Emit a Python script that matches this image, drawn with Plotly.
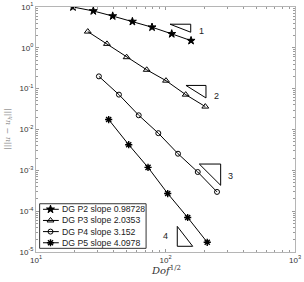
import numpy as np
import plotly.graph_objects as go

# Data (Dof^(1/2), error)
p2_x = [19.3, 27.7, 39.1, 55.5, 78.7, 111.7, 157.5]
p2_y = [10.0, 8.0, 6.0, 4.4, 3.2, 2.2, 1.5]
p3_x = [25.1, 35.3, 50.1, 71.6, 100.9, 143.2, 202.9]
p3_y = [2.5, 1.25, 0.59, 0.29, 0.157, 0.0714, 0.0364]
p4_x = [30.6, 43.7, 62.1, 88.0, 124.9, 177.4, 250.0]
p4_y = [0.2, 0.0714, 0.0223, 0.00813, 0.00255, 0.00091, 0.000296]
p5_x = [36.4, 52.0, 73.3, 104.0, 148.3, 210.0]
p5_y = [0.01754, 0.00424, 0.00118, 0.00027, 7.0e-5, 1.73e-5]

names = ["DG P2 slope 0.98728", "DG P3 slope 2.0353", "DG P4 slope 3.152", "DG P5 slope 4.0978"]

# slope triangles
tri1_x = [108.4, 156.6, 156.6, 108.4]
tri1_y = [3.79, 3.79, 2.41, 3.79]
tri2_x = [143.9, 205.4, 205.4, 143.9]
tri2_y = [0.120, 0.120, 0.0593, 0.120]
tri3_x = [182.4, 266.7, 266.7, 182.4]
tri3_y = [0.001426, 0.001426, 0.000430, 0.001426]
tri4_x = [123.3, 123.3, 162.2, 123.3]
tri4_y = [4.24e-5, 1.38e-5, 1.38e-5, 4.24e-5]
tri_labels = ["1", "2", "3", "4"]
lab_x = [190.3, 246.6, 316.0, 99.2]
lab_y = [2.6, 0.0675, 7.26e-4, 2.42e-5]

x_tick_vals = [10, 100, 1000]
x_tick_text = ["10<sup>1</sup>", "10<sup>2</sup>", "10<sup>3</sup>"]
y_tick_vals = [1e-5, 1e-4, 1e-3, 1e-2, 1e-1, 1, 10]
y_tick_text = ["10<sup>-5</sup>", "10<sup>-4</sup>", "10<sup>-3</sup>", "10<sup>-2</sup>",
               "10<sup>-1</sup>", "10<sup>0</sup>", "10<sup>1</sup>"]

fig = go.Figure()
styles = [("star", 6, 1), ("triangle-up-open", 6, 1),
          ("circle-open", 5, 1), ("asterisk-open", 6, 1.4)]
data = [(p2_x, p2_y), (p3_x, p3_y), (p4_x, p4_y), (p5_x, p5_y)]
for (x, y), (sym, sz, lw), nm in zip(data, styles, names):
    fig.add_trace(go.Scatter(x=x, y=y, mode="lines+markers", name=nm, showlegend=False,
                             line=dict(color="black", width=1),
                             marker=dict(symbol=sym, size=sz, color="black",
                                         line=dict(color="black", width=lw))))

for tx, ty in [(tri1_x, tri1_y), (tri2_x, tri2_y), (tri3_x, tri3_y), (tri4_x, tri4_y)]:
    fig.add_trace(go.Scatter(x=tx, y=ty, mode="lines", showlegend=False,
                             line=dict(color="black", width=1), hoverinfo="skip"))

for t, lx, ly in zip(tri_labels, lab_x, lab_y):
    fig.add_annotation(x=np.log10(lx), y=np.log10(ly), text=t, showarrow=False,
                       font=dict(size=9, color="#222222", family="Liberation Sans"))

# compact legend drawn on an overlay frame (0..1 of plot area)
lg_x0, lg_x1, lg_y0, lg_y1 = 0.014, 0.425, 0.015, 0.197
fig.add_shape(type="rect", xref="x2", yref="y2", x0=lg_x0, x1=lg_x1, y0=lg_y0, y1=lg_y1,
              line=dict(color="#333333", width=1), fillcolor="white", layer="below")
n = len(names)
row_h = (lg_y1 - lg_y0) / n
for i, ((sym, sz, lw), nm) in enumerate(zip(styles, names)):
    yy = lg_y1 - row_h * (i + 0.5)
    fig.add_trace(go.Scatter(x=[0.027, 0.088], y=[yy, yy], xaxis="x2", yaxis="y2",
                             mode="lines", showlegend=False, hoverinfo="skip",
                             line=dict(color="black", width=1)))
    fig.add_trace(go.Scatter(x=[0.056], y=[yy], xaxis="x2", yaxis="y2",
                             mode="markers", showlegend=False, hoverinfo="skip",
                             marker=dict(symbol=sym, size=sz, color="black",
                                         line=dict(color="black", width=lw))))
    fig.add_annotation(x=0.092, y=yy, xref="x2", yref="y2", text=nm, showarrow=False,
                       xanchor="left", yanchor="middle",
                       font=dict(size=8.7, family="Liberation Sans", color="#222222"))

minor_x = [m * 10 ** k for k in (1, 2) for m in range(2, 10)]
minor_y = [m * 10.0 ** k for k in range(-5, 1) for m in range(2, 10)]

axis_common = dict(type="log", showgrid=False, zeroline=False, showline=True,
                   linecolor="#b5b5b5", linewidth=1, mirror="ticks",
                   ticks="inside", ticklen=3, tickcolor="#9a9a9a", automargin=False,
                   tickfont=dict(size=8, color="#333333", family="Liberation Sans"))

fig.update_xaxes(range=[1, 3], tickvals=x_tick_vals, ticktext=x_tick_text,
                 minor=dict(tickvals=minor_x, ticks="inside", ticklen=2, tickcolor="#9a9a9a"),
                 **axis_common)
fig.update_yaxes(range=[-5, 1], tickvals=y_tick_vals, ticktext=y_tick_text,
                 minor=dict(tickvals=minor_y, ticks="inside", ticklen=2, tickcolor="#9a9a9a"),
                 **axis_common)

fig.update_layout(
    xaxis2=dict(overlaying="x", range=[0, 1], visible=False, fixedrange=True),
    yaxis2=dict(overlaying="y", range=[0, 1], visible=False, fixedrange=True),
)

# axis titles
fig.add_annotation(x=0.5, y=-0.073, xref="paper", yref="paper", yanchor="middle",
                   text="<i>Dof</i><sup>1/2</sup>", showarrow=False,
                   font=dict(size=10, family="DejaVu Serif", color="#333333"))
fig.add_annotation(x=-0.11, y=0.5, xref="paper", yref="paper", xanchor="center",
                   text="|||<i>u</i> − <i>u<sub>h</sub></i>|||", showarrow=False, textangle=-90,
                   font=dict(size=8, family="DejaVu Serif", color="#888888"))

fig.update_layout(width=304, height=282, margin=dict(l=36, r=9, t=7, b=30),
                  paper_bgcolor="white", plot_bgcolor="white", showlegend=False)

fig.write_html("out.html", config={"displayModeBar": False, "staticPlot": True},
               post_script="document.body.style.margin='0';document.body.style.overflow='hidden';")
